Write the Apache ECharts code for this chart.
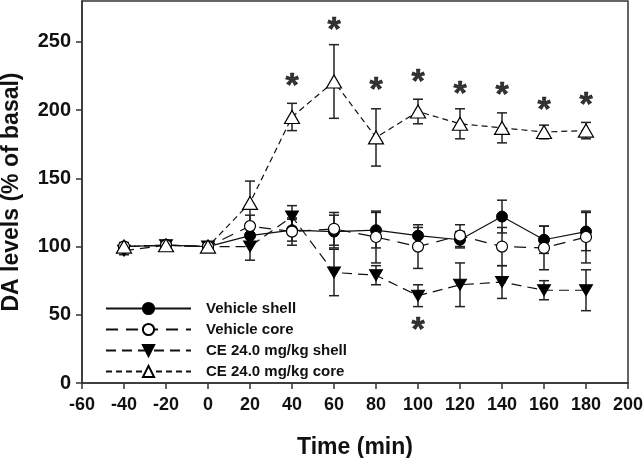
<!DOCTYPE html>
<html>
<head>
<meta charset="utf-8">
<script src="https://cdn.jsdelivr.net/npm/echarts@6/dist/echarts.min.js"></script>
<style>
  html, body { margin: 0; padding: 0; background: #fff; }
  #main { width: 644px; height: 458px; }
</style>
</head>
<body>
<div id="main"></div>
<script>
var myChart = echarts.init(document.getElementById('main'));

// time points (min)
var times = [-40, -20, 0, 20, 40, 60, 80, 100, 120, 140, 160, 180];

// DA levels (% of basal) and SEM
var vehicleShell    = [100, 101, 100, 108, 112, 111, 112, 108, 105, 122, 105, 111];
var vehicleShellErr = [2, 2, 2, 5, 8, 12, 13, 6, 6, 12, 10, 14];
var vehicleCore     = [100, 101, 100, 115, 111, 113, 107, 100, 108, 100, 99, 107];
var vehicleCoreErr  = [2, 2, 2, 8, 10, 12, 19, 16, 8, 14, 16, 19];
var ceShell         = [97, 101, 100, 100, 122, 81, 79, 64, 72, 74, 68, 68];
var ceShellErr      = [3, 2, 2, 10, 8, 17, 7, 8, 16, 12, 7, 15];
var ceCore          = [100, 101, 100, 132, 195, 221, 180, 199, 190, 187, 184, 185];
var ceCoreErr       = [3, 2, 2, 16, 10, 27, 21, 9, 11, 11, 5, 6];

// significance marks (*)
var starTimes  = [40, 60, 80, 100, 120, 140, 160, 180, 100];
var starLevels = [224, 265, 221, 227, 218, 217, 206, 210, 45];

var yTicks = [0, 50, 100, 150, 200, 250];

var names = ['Vehicle shell', 'Vehicle core', 'CE 24.0 mg/kg shell', 'CE 24.0 mg/kg core'];

function pairs(v) {
    return times.map(function (t, i) { return [t, v[i]]; });
}
function errData(v, e) {
    return times.map(function (t, i) { return [t, v[i], e[i]]; });
}

function renderErr(params, api) {
    var x = api.value(0), y = api.value(1), e = api.value(2);
    var lo = api.coord([x, y - e]);
    var hi = api.coord([x, y + e]);
    var w = 5;
    var st = { stroke: '#222', lineWidth: 1.5 };
    return {
        type: 'group',
        children: [
            { type: 'line', shape: { x1: lo[0], y1: lo[1], x2: hi[0], y2: hi[1] }, style: st },
            { type: 'line', shape: { x1: lo[0] - w, y1: lo[1], x2: lo[0] + w, y2: lo[1] }, style: st },
            { type: 'line', shape: { x1: hi[0] - w, y1: hi[1], x2: hi[0] + w, y2: hi[1] }, style: st }
        ]
    };
}

function errSeries(v, e) {
    return {
        type: 'custom',
        renderItem: renderErr,
        data: errData(v, e),
        silent: true,
        z: 1
    };
}

var font = 'Liberation Sans, Arial, sans-serif';

option = {
    animation: false,
    backgroundColor: '#fff',
    grid: {
        left: 82,
        right: 16,
        top: 1,
        bottom: 75,
        containLabel: false,
        outerBoundsMode: 'none',
        show: true,
        borderColor: '#333',
        borderWidth: 1.5
    },
    legend: {
        orient: 'vertical',
        left: 100,
        top: 296,
        itemWidth: 85,
        itemHeight: 14,
        itemGap: 6,
        data: names,
        textStyle: {
            fontFamily: font,
            fontWeight: 'bold',
            fontSize: 15,
            color: '#111',
            padding: [0, 0, 0, 10]
        }
    },
    xAxis: {
        type: 'value',
        min: -60,
        max: 200,
        interval: 20,
        name: 'Time (min)',
        nameLocation: 'middle',
        nameGap: 53,
        nameTextStyle: { fontFamily: font, fontWeight: 'bold', fontSize: 23, color: '#111' },
        axisLine: { onZero: false, lineStyle: { color: '#333', width: 1.5 } },
        axisTick: { length: 6, lineStyle: { color: '#333', width: 1.5 } },
        axisLabel: { margin: 13, fontFamily: font, fontWeight: 'bold', fontSize: 18, color: '#111' },
        splitLine: { show: false }
    },
    yAxis: {
        type: 'value',
        min: 0,
        max: 280,
        name: 'DA levels (% of basal)',
        nameLocation: 'middle',
        nameGap: 59,
        nameTextStyle: { fontFamily: font, fontWeight: 'bold', fontSize: 23, color: '#111' },
        axisLine: { show: true, onZero: false, lineStyle: { color: '#333', width: 1.5 } },
        axisTick: { show: true, length: 6, customValues: yTicks, lineStyle: { color: '#333', width: 1.5 } },
        axisLabel: { margin: 11, customValues: yTicks, fontFamily: font, fontWeight: 'bold', fontSize: 20, color: '#111' },
        splitLine: { show: false }
    },
    series: [
        errSeries(vehicleShell, vehicleShellErr),
        errSeries(vehicleCore, vehicleCoreErr),
        errSeries(ceShell, ceShellErr),
        errSeries(ceCore, ceCoreErr),
        {
            name: names[0],
            type: 'line',
            data: pairs(vehicleShell),
            symbol: 'circle',
            symbolSize: 11,
            lineStyle: { color: '#111', width: 1.2, type: 'solid' },
            itemStyle: { color: '#000', borderColor: '#000', borderWidth: 1 },
            z: 3
        },
        {
            name: names[1],
            type: 'line',
            data: pairs(vehicleCore),
            symbol: 'circle',
            symbolSize: 11,
            lineStyle: { color: '#111', width: 1.2, type: [12, 8] },
            itemStyle: { color: '#fff', borderColor: '#000', borderWidth: 1.2 },
            z: 4
        },
        {
            name: names[2],
            type: 'line',
            data: pairs(ceShell),
            symbol: 'path://M0,0L14,0L7,12Z',
            symbolSize: [13, 11],
            lineStyle: { color: '#111', width: 1.2, type: [10, 6] },
            itemStyle: { color: '#000', borderColor: '#000', borderWidth: 1 },
            z: 3
        },
        {
            name: names[3],
            type: 'line',
            data: pairs(ceCore),
            symbol: 'path://M0,12L7,0L14,12Z',
            symbolSize: [15, 13],
            lineStyle: { color: '#111', width: 1.2, type: [6, 4] },
            itemStyle: { color: '#fff', borderColor: '#000', borderWidth: 1.2 },
            z: 4
        },
        {
            type: 'scatter',
            data: starTimes.map(function (t, i) { return [t, starLevels[i]]; }),
            symbolSize: 1,
            itemStyle: { color: 'rgba(0,0,0,0)' },
            label: {
                show: true,
                position: 'inside',
                formatter: '*',
                offset: [0, 9],
                fontFamily: font,
                fontWeight: 'bold',
                fontSize: 34,
                color: '#000',
                textBorderColor: '#000',
                textBorderWidth: 0.6
            },
            silent: true,
            z: 5
        }
    ]
};
myChart.setOption(option);
</script>
</body>
</html>
